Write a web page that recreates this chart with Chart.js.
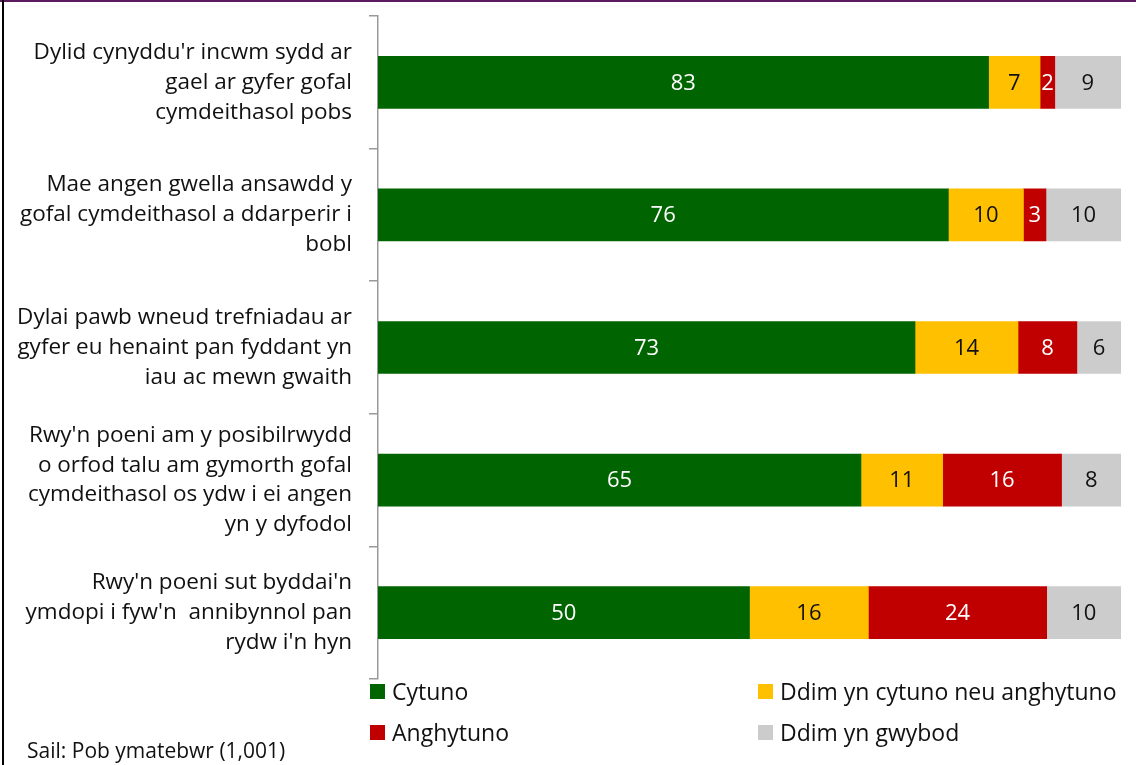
<!DOCTYPE html>
<html>
<head>
<meta charset="utf-8">
<script src="https://cdn.jsdelivr.net/npm/chart.js@4/dist/chart.umd.min.js"></script>
<style>
    body { margin: 0; background: #fff; font-family: 'Open Sans', sans-serif; }
    #wrap { position: relative; width: 1136px; height: 765px; overflow: hidden; }
    #topline { position: absolute; left: 0; top: 0; width: 1136px; height: 2px; background: #5e1a60; }
    #leftline { position: absolute; left: 2px; top: 0; width: 2px; height: 765px; background: #000; }
    .leg { position: absolute; font-size: 23px; color: #111; display: flex; align-items: center; white-space: nowrap; }
    .leg span.box { display: inline-block; width: 15px; height: 15px; margin-right: 7px; }
    #note { position: absolute; left: 27px; top: 736px; font-size: 21px; color: #111; }
</style>
</head>
<body>
<div id="wrap">
    <canvas id="chart" width="1136" height="765"></canvas>
    <div id="topline"></div>
    <div id="leftline"></div>
    <div id="legend"></div>
    <div id="note">Sail: Pob ymatebwr (1,001)</div>
</div>
<script>
const categories = [
    ["Dylid cynyddu'r incwm sydd ar", "gael ar gyfer gofal", "cymdeithasol pobs"],
    ["Mae angen gwella ansawdd y", "gofal cymdeithasol a ddarperir i", "bobl"],
    ["Dylai pawb wneud trefniadau ar", "gyfer eu henaint pan fyddant yn", "iau ac mewn gwaith"],
    ["Rwy'n poeni am y posibilrwydd", "o orfod talu am gymorth gofal", "cymdeithasol os ydw i ei angen", "yn y dyfodol"],
    ["Rwy'n poeni sut byddai'n", "ymdopi i fyw'n  annibynnol pan", "rydw i'n hyn"]
];
const cytuno = [83, 76, 73, 65, 50];
const neutral = [7, 10, 14, 11, 16];
const anghytuno = [2, 3, 8, 16, 24];
const dontKnow = [9, 10, 6, 8, 10];

const seriesNames = ['Cytuno', 'Ddim yn cytuno neu anghytuno', 'Anghytuno', 'Ddim yn gwybod'];
const seriesColors = ['#006400', '#FFC000', '#C00000', '#CCCCCC'];
const labelColors = ['#fff', '#111', '#fff', '#111'];

// excel draws it as 100% stacked, so rows that add up to 99 or 101 still fill the width
const raw = [cytuno, neutral, anghytuno, dontKnow];
const totals = categories.map((c, i) => raw.reduce((s, arr) => s + arr[i], 0));

const datasets = raw.map((arr, k) => ({
    label: seriesNames[k],
    data: arr.map((v, i) => v / totals[i] * 100),
    rawValues: arr,
    backgroundColor: seriesColors[k],
    borderWidth: 0,
    barThickness: 52
}));

const valueLabels = {
    id: 'valueLabels',
    afterDatasetsDraw(chart) {
        const ctx = chart.ctx;
        ctx.save();
        ctx.font = "22px 'Open Sans'";
        ctx.textAlign = 'center';
        ctx.textBaseline = 'middle';
        chart.data.datasets.forEach((ds, k) => {
            chart.getDatasetMeta(k).data.forEach((bar, i) => {
                ctx.fillStyle = labelColors[k];
                ctx.fillText(ds.rawValues[i], (bar.x + bar.base) / 2, bar.y + 1);
            });
        });
        ctx.restore();
    }
};

new Chart(document.getElementById('chart'), {
    type: 'bar',
    data: { labels: categories, datasets: datasets },
    options: {
        indexAxis: 'y',
        responsive: false,
        animation: false,
        layout: { padding: { top: 16, bottom: 86, right: 15, left: 0 } },
        plugins: { legend: { display: false }, tooltip: { enabled: false } },
        scales: {
            x: { stacked: true, min: 0, max: 100, display: false },
            y: {
                stacked: true,
                afterFit: (scale) => {
                    scale.width = 378;
                    scale.paddingTop = 0;
                    scale.paddingBottom = 0;
                },
                grid: { offset: true, drawOnChartArea: false, tickLength: 9, color: '#999', lineWidth: 1.5 },
                border: { color: '#999', width: 1.5 },
                ticks: {
                    padding: 17,
                    color: '#111',
                    font: { family: 'Open Sans', size: 22.5, lineHeight: 1.33 }
                }
            }
        }
    },
    plugins: [valueLabels]
});

// legend in two columns like the original
const legendPos = [[370, 675], [758, 675], [370, 716], [758, 716]];
const legendDiv = document.getElementById('legend');
seriesNames.forEach((name, k) => {
    const item = document.createElement('div');
    item.className = 'leg';
    item.style.left = legendPos[k][0] + 'px';
    item.style.top = legendPos[k][1] + 'px';
    item.innerHTML = '<span class="box" style="background:' + seriesColors[k] + '"></span>' + name;
    legendDiv.appendChild(item);
});
</script>
</body>
</html>
